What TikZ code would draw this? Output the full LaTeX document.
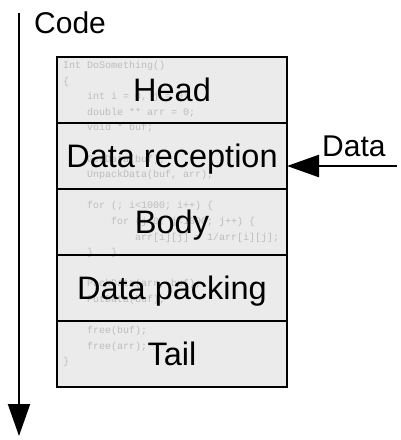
\documentclass[tikz,border=0pt]{standalone}
\usepackage{fontspec}
\setmainfont{Liberation Sans}
\setmonofont{Liberation Mono}
\usepackage{tikz}
\usetikzlibrary{positioning,arrows.meta}
\definecolor{partfill}{gray}{0.92}
\definecolor{codegray}{gray}{0.74}
\tikzset{part/.style={draw, line width=2pt, minimum width=230pt, minimum height=66pt,
           outer sep=0pt, inner sep=0pt, text height=23pt, text depth=0pt,
           font=\fontsize{32.5}{38}\selectfont},
         listing/.style={text=codegray, align=left, inner sep=0pt,
           font=\ttfamily\fontsize{10}{15.6}\selectfont},
         big/.style={inner sep=0pt, font=\fontsize{30}{36}\selectfont},
         flow/.style={line width=2pt, -{Triangle[length=32pt,width=22pt]}}}
\newcommand{\ind}{\hspace*{24pt}}
\begin{document}
\begin{tikzpicture}[x=1pt,y=-1pt]
	\useasboundingbox (0,0) rectangle (400,440);
	\fill[partfill] (57,57) rectangle (287,387);
	\node[listing, anchor=north west] (src) at (63,61)
		{Int DoSomething()\\
		\{\\
		\ind int i = 0, j = 0;\\
		\ind double ** arr = 0;\\
		\ind void * buf;\\
		\mbox{}\\
		\ind GetData(buf);\\
		\ind UnpackData(buf, arr);\\
		\mbox{}\\
		\ind for (; i<1000; i++) \{\\
		\ind\ind for (j=0; j<1000; j++) \{\\
		\ind\ind\ind arr[i][j] = 1/arr[i][j];\\
		\ind \}\hspace*{18pt}\}\\
		\mbox{}\\
		\ind PackData(arr, buf);\\
		\ind PutData(buf);\\
		\mbox{}\\
		\ind free(buf);\\
		\ind free(arr);\\
		\}};
	\node[part, anchor=north west] (head) at (57,57) {Head};
	\node[part, below=0pt of head] (recv) {Data reception};
	\node[part, below=0pt of recv] (body) {Body};
	\node[part, below=0pt of body] (pack) {Data packing};
	\node[part, below=0pt of pack] (tail) {Tail};
	\node[big, anchor=base west] (code) at (34,33) {Code};
	\node[big, anchor=base west] (data) at (322,156) {Data};
	\coordinate (start) at (19,13);
	\coordinate (end) at (19,436);
	\coordinate (datain) at (397,166);
	\draw[flow] (start) -- (end);
	\draw[flow, line width=2.4pt] (datain) -- (datain -| recv.east);
\end{tikzpicture}
\end{document}
